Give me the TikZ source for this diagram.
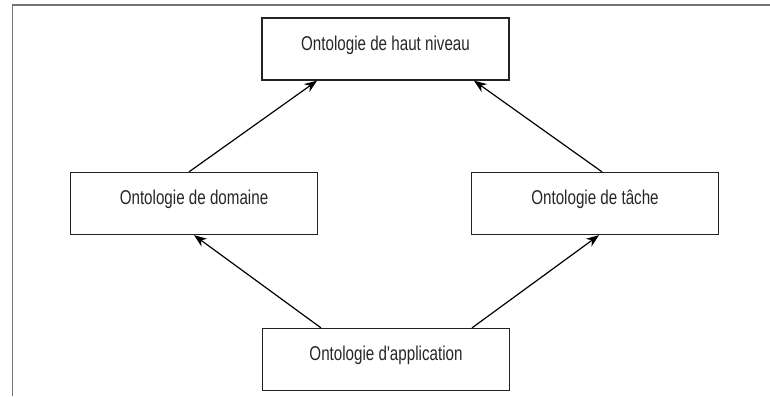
\documentclass[tikz,border=0pt]{standalone}
\usepackage{fontspec}
\newfontfamily\ontofont[FakeStretch=0.76]{Liberation Sans}
\usetikzlibrary{arrows.meta}
\definecolor{cadre}{RGB}{115,115,115}
\definecolor{trait}{RGB}{35,35,35}

\begin{document}
\begin{tikzpicture}[x=0.025cm, y=-0.025cm, >={Stealth[length=0.32cm, width=0.24cm]},
		onto/.style={draw=trait, line width=0.9pt, minimum width=6.175cm, inner xsep=0pt, inner ysep=0pt,
			text height=0.8cm, text depth=0.75cm, text=black!85, font=\ontofont\fontsize{14.2}{17}\selectfont},
		lien/.style={->, line width=0.85pt, black}]
		\useasboundingbox (0,0) rectangle (770,396);
		%frame
		\draw[cadre, line width=1.3pt] (12.5,396) -- (12.5,5) -- (770,5);
		
		%ontologies
		\node[onto] (haut) at (385.5,49){Ontologie de haut niveau};
		\node[onto] (domaine) at (194,203.5){Ontologie de domaine};
		\node[onto] (tache) at (595,203.5){Ontologie de tâche};
		\node[onto] (appli) at (386,359.5){Ontologie d'application};
		
		%arrows
		\draw[lien] ([xshift=-0.125cm]domaine.north) -- ([xshift=-1.71cm]haut.south);
		\draw[lien] ([xshift=0.175cm]tache.north) -- ([xshift=2.21cm]haut.south);
		\draw[lien] ([xshift=-1.625cm]appli.north) -- (domaine.south);
		\draw[lien] ([xshift=2.15cm]appli.north) -- ([xshift=0.1cm]tache.south);
\end{tikzpicture}
\end{document}
